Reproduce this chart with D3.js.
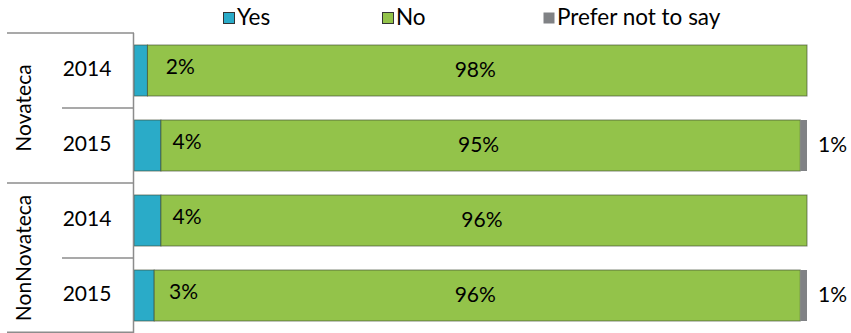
<!DOCTYPE html>
<html>
<head>
<meta charset="utf-8">
<script src="https://cdn.jsdelivr.net/npm/d3@7"></script>
<style>
  html, body { margin: 0; padding: 0; background: #fff; }
  svg { display: block; font-family: Lato, "Open Sans", sans-serif; }
</style>
</head>
<body>
<svg id="chart" width="851" height="333"></svg>
<script>
// Survey answers by group and year (percent)
const groups = ["Novateca", "NonNovateca"];
const years = ["2014", "2015"];
const yesValues = [2, 4, 4, 3];
const noValues = [98, 95, 96, 96];
const preferNotValues = [0, 1, 0, 1];
const seriesNames = ["Yes", "No", "Prefer not to say"];
const seriesColors = ["#2aabc8", "#93c34a", "#808285"];

const rows = [];
groups.forEach((g, gi) => years.forEach((yr, yi) => {
  const i = gi * years.length + yi;
  rows.push({ key: g + "-" + yr, group: g, year: yr,
    vals: [yesValues[i], noValues[i], preferNotValues[i]] });
}));

const svg = d3.select("#chart");
const plotLeft = 134, plotRight = 807, plotTop = 33, plotBottom = 333;

const x = d3.scaleLinear().domain([0, 100]).range([plotLeft, plotRight]);
const y = d3.scaleBand().domain(rows.map(r => r.key)).range([plotTop, plotBottom])
  .paddingInner(0.32).paddingOuter(0.16);

const stack = d3.stack().keys([0, 1, 2]).value((d, k) => d.vals[k]);
const layers = stack(rows);

// Bars
const gBars = svg.append("g");
layers.forEach((layer, k) => {
  gBars.selectAll(null).data(layer.filter(d => d[1] - d[0] > 0)).enter().append("rect")
    .attr("x", d => x(d[0]))
    .attr("y", d => y(d.data.key))
    .attr("width", d => x(d[1]) - x(d[0]))
    .attr("height", y.bandwidth())
    .attr("fill", seriesColors[k])
    .attr("stroke", k === 2 ? "none" : "#3d4a33")
    .attr("stroke-opacity", 0.65)
    .attr("stroke-width", 1);
});

// Value labels
const fs = 21;
const gLab = svg.append("g").attr("font-size", fs).attr("fill", "#000");
layers[0].forEach(d => {
  gLab.append("text")
    .attr("x", x(d[0] + (d[1] - d[0]) / 2) + 25)
    .attr("y", y(d.data.key) + y.bandwidth() / 2 - 2)
    .attr("dominant-baseline", "middle")
    .text(d.data.vals[0] + "%");
});
layers[1].forEach(d => {
  gLab.append("text")
    .attr("x", x((d[0] + d[1]) / 2) - 2)
    .attr("y", y(d.data.key) + y.bandwidth() / 2 + 1)
    .attr("text-anchor", "middle")
    .attr("dominant-baseline", "middle")
    .text(d.data.vals[1] + "%");
});
layers[2].filter(d => d[1] - d[0] > 0).forEach(d => {
  gLab.append("text")
    .attr("x", x(d[1]) + 11)
    .attr("y", y(d.data.key) + y.bandwidth() / 2 + 1)
    .attr("dominant-baseline", "middle")
    .text(d.data.vals[2] + "%");
});

// Category axis with grouped labels
const axisColor = "#8c8c8c";
const gAx = svg.append("g").attr("stroke", axisColor).attr("stroke-width", 1.5);
gAx.append("line").attr("x1", plotLeft - 0.5).attr("x2", plotLeft - 0.5).attr("y1", plotTop).attr("y2", plotBottom);
const step = y.step();
const bandTop = key => y(key) - y.paddingInner() * step / 2;
rows.forEach(r => {
  const yy = bandTop(r.key);
  const isGroupStart = r.year === years[0];
  gAx.append("line").attr("x1", isGroupStart ? 7 : 62).attr("x2", plotLeft)
    .attr("y1", yy).attr("y2", yy);
});
gAx.append("line").attr("x1", 7).attr("x2", plotLeft).attr("y1", plotBottom - 0.75).attr("y2", plotBottom - 0.75);

const gCat = svg.append("g").attr("font-size", fs).attr("fill", "#000");
rows.forEach(r => {
  gCat.append("text")
    .attr("x", 87)
    .attr("y", y(r.key) + y.bandwidth() / 2)
    .attr("text-anchor", "middle")
    .attr("dominant-baseline", "middle")
    .text(r.year);
});
groups.forEach(g => {
  const keys = years.map(yr => g + "-" + yr);
  const cy = (bandTop(keys[0]) + bandTop(keys[keys.length - 1]) + step) / 2;
  gCat.append("text")
    .attr("transform", `translate(26,${cy}) rotate(-90)`)
    .attr("text-anchor", "middle")
    .attr("dominant-baseline", "middle")
    .text(g);
});

// Legend
const legendX = [223, 382, 543];
const gLeg = svg.append("g").attr("font-size", 22.5);
seriesNames.forEach((name, k) => {
  gLeg.append("rect")
    .attr("x", legendX[k] + 0.5).attr("y", 12.5)
    .attr("width", 11).attr("height", 11)
    .attr("fill", seriesColors[k])
    .attr("stroke", k === 2 ? "none" : "#333")
    .attr("stroke-width", 1);
  gLeg.append("text")
    .attr("x", legendX[k] + 14).attr("y", 19)
    .attr("dominant-baseline", "middle")
    .text(name);
});
</script>
</body>
</html>
